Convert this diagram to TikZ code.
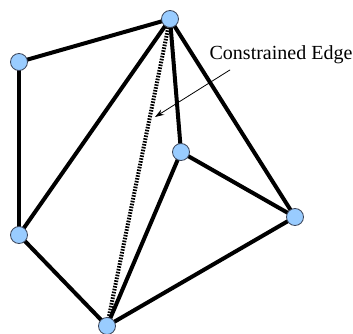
\documentclass[tikz,border=0pt]{standalone}
\usepackage{fontspec}
\setmainfont{Liberation Serif}
\usetikzlibrary{arrows.meta, backgrounds}
\definecolor{vertexblue}{RGB}{153,204,255}
\definecolor{vertexrim}{RGB}{60,70,90}

\begin{document}
\begin{tikzpicture}[
  x=1pt, y=-1pt,
  vertex/.style={circle, draw=vertexrim, line width=0.8pt, fill=vertexblue,
                 minimum size=17pt, inner sep=0pt},
  edge/.style={line width=4pt},
  cedge/.style={line width=4pt, dash pattern=on 1.6pt off 1.3pt},
  pointer/.style={-{Stealth[length=9pt,width=6pt]}, line width=0.8pt}
]
\useasboundingbox (0,0) rectangle (353,334);

%--- Vertices ---%
\node[vertex] (top)   at (170,19)  {};
\node[vertex] (ltop)  at (19,62)   {};
\node[vertex] (lbot)  at (19,235)  {};
\node[vertex] (bot)   at (107,326) {};
\node[vertex] (right) at (295,217) {};
\node[vertex] (mid)   at (181,152) {};

%--- Edges (behind the vertices) ---%
\begin{pgfonlayer}{background}
\draw[edge] (ltop.center) -- (top.center);
\draw[edge] (ltop.center) -- (lbot.center);
\draw[edge] (lbot.center) -- (top.center);
\draw[edge] (lbot.center) -- (bot.center);
\draw[edge] (top.center)  -- (mid.center);
\draw[edge] (top.center)  -- (right.center);
\draw[edge] (mid.center)  -- (right.center);
\draw[edge] (mid.center)  -- (bot.center);
\draw[edge] (bot.center)  -- (right.center);
\draw[cedge] (top.center) -- (bot.center);
\end{pgfonlayer}

%--- Label ---%
\node[font=\fontsize{20}{24}\selectfont, anchor=base] (label) at (281,60) {Constrained Edge};
\coordinate (aim) at (155,117);
\draw[pointer] (label.south west) ++(24,2) coordinate (from) (from) -- (aim);

\end{tikzpicture}
\end{document}
